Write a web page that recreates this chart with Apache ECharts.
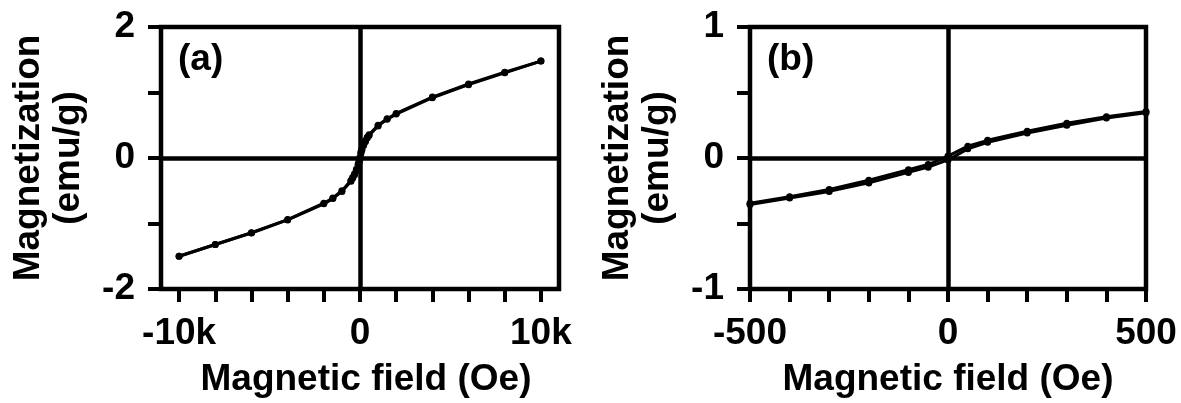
<!DOCTYPE html>
<html>
<head>
<meta charset="utf-8">
<script src="https://cdn.jsdelivr.net/npm/echarts@6/dist/echarts.min.js"></script>
<style>html,body{margin:0;padding:0;background:#fff}#c{width:1181px;height:403px}</style>
</head>
<body>
<div id="c"></div>
<script>
// Descending branch (field swept from +10 kOe to -10 kOe)
var fieldDown  = [10000, 8000, 6000, 4000, 2000, 1500, 1000, 500, 400, 300, 200, 100, 50, 0, -50, -100, -200, -300, -400, -500, -1000, -1500, -2000, -4000, -6000, -8000, -10000];
var momentDown = [1.48, 1.31, 1.13, 0.93, 0.68, 0.60, 0.50, 0.355, 0.315, 0.265, 0.205, 0.135, 0.09, 0.015, -0.05, -0.09, -0.17, -0.24, -0.295, -0.345, -0.50, -0.61, -0.69, -0.94, -1.14, -1.32, -1.50];
// Ascending branch (field swept from -10 kOe to +10 kOe)
var fieldUp    = [-10000, -8000, -6000, -4000, -2000, -1500, -1000, -500, -400, -300, -200, -100, -50, 0, 50, 100, 200, 300, 400, 500, 1000, 1500, 2000, 4000, 6000, 8000, 10000];
var momentUp   = [-1.50, -1.32, -1.145, -0.945, -0.70, -0.62, -0.51, -0.355, -0.305, -0.255, -0.19, -0.11, -0.07, -0.015, 0.07, 0.12, 0.19, 0.25, 0.305, 0.345, 0.49, 0.59, 0.67, 0.92, 1.12, 1.30, 1.48];

var ticksA_x  = [-10000, -8000, -6000, -4000, -2000, 0, 2000, 4000, 6000, 8000, 10000];
var labelsA_x = [-10000, 0, 10000];
var panelLabels = ['(a)', '(b)'];
var xName = 'Magnetic field (Oe)';
var yName = 'Magnetization\n(emu/g)';

function zip(a, b) { return a.map(function (v, i) { return [v, b[i]]; }); }

var FONT = '"Liberation Sans", Arial, sans-serif';
var black = '#000';
var txt = { fontFamily: FONT, fontWeight: 'bold', fontSize: 37, color: black };

function xAxisCfg(grid, min, max, interval, labelFn, ticks, labels, nameOffsetX) {
  var a = {
    type: 'value', gridIndex: grid, min: min, max: max, position: 'bottom',
    axisLine: { show: false, onZero: false },
    axisTick: { show: true, inside: false, length: 13, lineStyle: { color: black, width: 4 } },
    axisLabel: Object.assign({ margin: 26, formatter: labelFn }, txt),
    splitLine: { show: false },
    name: xName, nameLocation: 'middle', nameGap: 72,
    nameTextStyle: Object.assign({ padding: [0, 0, 0, nameOffsetX || 0] }, txt)
  };
  if (interval) a.interval = interval;
  if (ticks) { a.axisTick.customValues = ticks; a.axisLabel.customValues = labels; }
  return a;
}
function yAxisCfg(grid, min, max, interval, labelFn) {
  return {
    type: 'value', gridIndex: grid, min: min, max: max, interval: interval,
    axisLine: { show: false, onZero: false },
    axisTick: { show: true, inside: false, length: 13, lineStyle: { color: black, width: 4 } },
    axisLabel: Object.assign({ margin: 26, formatter: labelFn }, txt),
    splitLine: { show: false },
    name: yName, nameLocation: 'middle', nameRotate: 90, nameGap: 72,
    nameTextStyle: Object.assign({ lineHeight: 40 }, txt)
  };
}

var zeroLines = {
  silent: true, symbol: 'none', label: { show: false },
  lineStyle: { color: black, width: 4.5, type: 'solid', opacity: 1 },
  emphasis: { disabled: true },
  data: [{ xAxis: 0 }, { yAxis: 0 }]
};

function branch(grid, data, withZero) {
  var s = {
    type: 'line', xAxisIndex: grid, yAxisIndex: grid, data: data,
    symbol: 'circle', symbolSize: 7, showSymbol: true,
    lineStyle: { color: black, width: 3 }, itemStyle: { color: black },
    animation: false, clip: true, z: 3
  };
  if (withZero) s.markLine = zeroLines;
  return s;
}

var option = {
  animation: false,
  backgroundColor: '#fff',
  title: [
    { text: panelLabels[0], left: 178, top: 41, textStyle: txt, padding: 0 },
    { text: panelLabels[1], left: 767, top: 41, textStyle: txt, padding: 0 }
  ],
  grid: [
    { left: 161, top: 27, width: 398, height: 263, show: true, borderColor: black, borderWidth: 4.5, backgroundColor: 'transparent' },
    { left: 750, top: 27, width: 396, height: 263, show: true, borderColor: black, borderWidth: 4.5, backgroundColor: 'transparent' }
  ],
  xAxis: [
    xAxisCfg(0, -11000, 11000, null, function (v) { return v === 0 ? '0' : (v / 1000) + 'k'; }, ticksA_x, labelsA_x, 12),
    xAxisCfg(1, -500, 500, 100, function (v) { return (v % 500 === 0) ? String(v) : ''; })
  ],
  yAxis: [
    yAxisCfg(0, -2, 2, 1, function (v) { return (v % 2 === 0) ? String(v) : ''; }),
    yAxisCfg(1, -1, 1, 0.5, function (v) { return (v % 1 === 0) ? String(v) : ''; })
  ],
  series: [
    branch(0, zip(fieldDown, momentDown), true),
    branch(0, zip(fieldUp, momentUp), false),
    branch(1, zip(fieldDown, momentDown), true),
    branch(1, zip(fieldUp, momentUp), false)
  ]
};

var chart = echarts.init(document.getElementById('c'), null, { renderer: 'canvas' });
chart.setOption(option);
</script>
</body>
</html>
